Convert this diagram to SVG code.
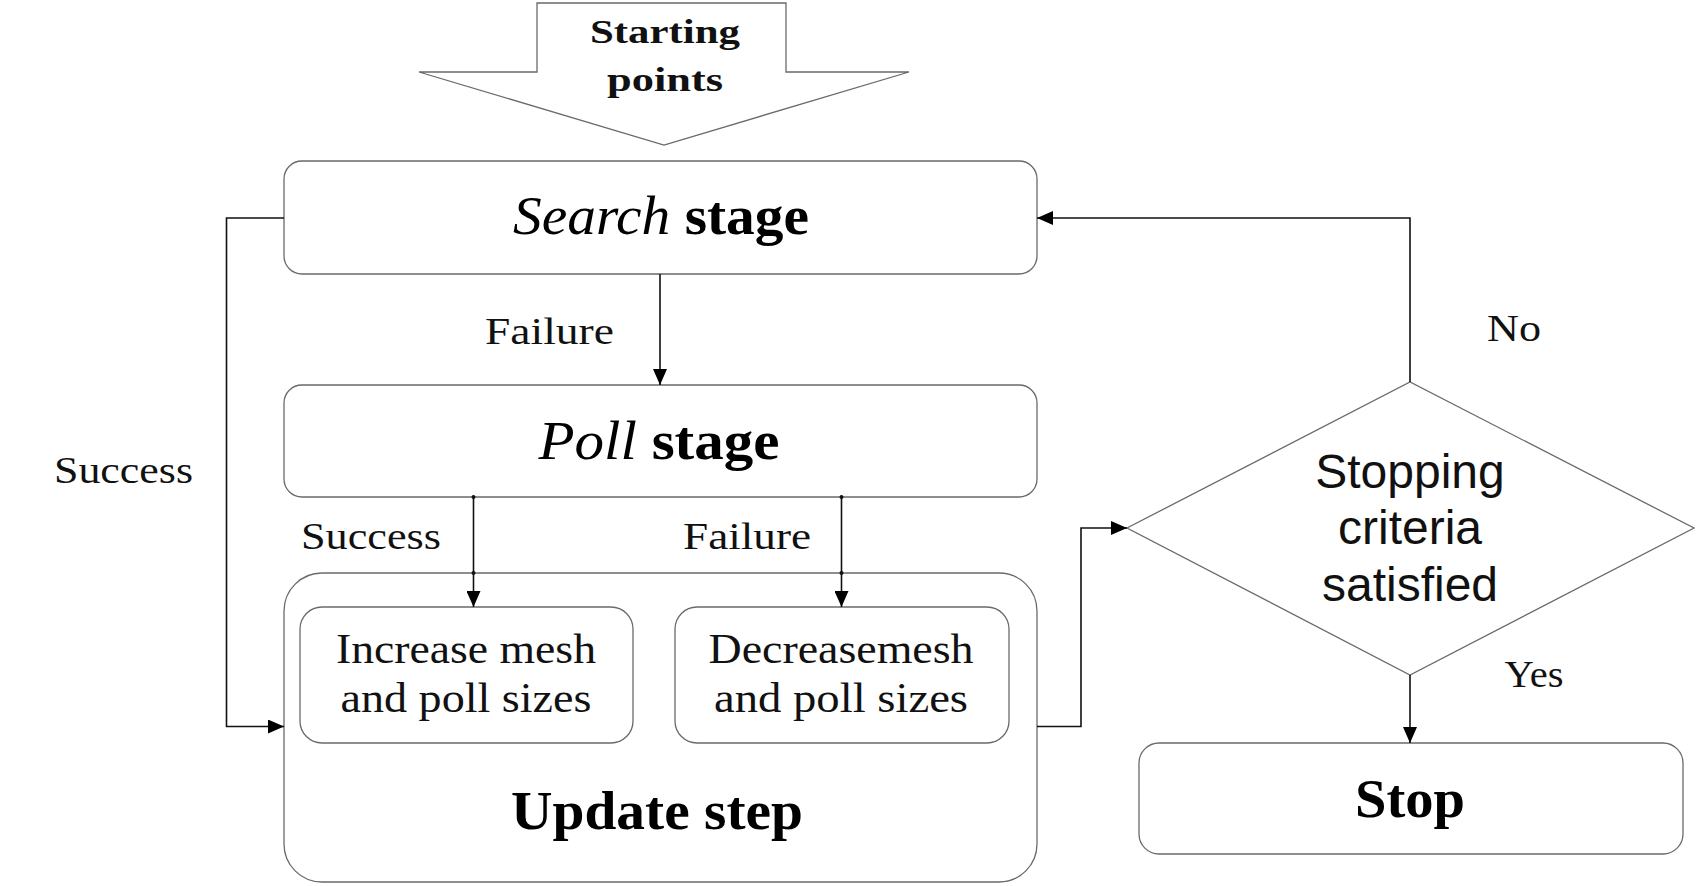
<svg xmlns="http://www.w3.org/2000/svg" width="1700" height="886" viewBox="0 0 1700 886">
<style>
.box{fill:#fff;stroke:#6a6a6a;stroke-width:1.3}
.conn{fill:none;stroke:#111;stroke-width:1.6}
.lbl{font-family:"Liberation Serif",serif;font-size:38px;fill:#111;text-anchor:middle}
.big{font-family:"Liberation Serif",serif;font-size:54px;fill:#000;text-anchor:middle}
.mid{font-family:"Liberation Serif",serif;font-size:42px;fill:#111;text-anchor:middle}
.dec{font-family:"Liberation Sans",sans-serif;font-size:48px;fill:#111;text-anchor:middle}
.st{font-family:"Liberation Serif",serif;font-size:34px;font-weight:bold;fill:#111;text-anchor:middle}
</style>
<defs>
<marker id="ah" viewBox="0 0 16 14" refX="16" refY="7" markerWidth="16" markerHeight="14" markerUnits="userSpaceOnUse" orient="auto">
<path d="M0,0 L16,7 L0,14 Z" fill="#000"/>
</marker>
</defs>
<g id="start">
<polygon class="box" points="537,3 786,3 786,72 909,72 664,145 419,72 537,72"/>
<text class="st" x="665" y="43" textLength="150" lengthAdjust="spacingAndGlyphs">Starting</text>
<text class="st" x="665" y="91" textLength="116" lengthAdjust="spacingAndGlyphs">points</text>
</g>
<g id="search">
<rect class="box" x="284" y="161" width="753" height="113" rx="18"/>
<text class="big" x="661" y="234" textLength="296" lengthAdjust="spacingAndGlyphs"><tspan font-style="italic">Search</tspan><tspan font-weight="bold"> stage</tspan></text>
</g>
<g id="poll">
<rect class="box" x="284" y="385" width="753" height="112" rx="18"/>
<text class="big" x="659" y="459" textLength="241" lengthAdjust="spacingAndGlyphs"><tspan font-style="italic">Poll</tspan><tspan font-weight="bold"> stage</tspan></text>
</g>
<g id="update">
<rect class="box" x="284" y="573" width="753" height="309" rx="38"/>
<text class="big" x="657" y="829" font-weight="bold" textLength="292" lengthAdjust="spacingAndGlyphs">Update step</text>
</g>
<g id="increase">
<rect class="box" x="300" y="607" width="333" height="136" rx="22"/>
<text class="mid" x="466" y="663" textLength="260" lengthAdjust="spacingAndGlyphs">Increase mesh</text>
<text class="mid" x="466" y="712" textLength="251" lengthAdjust="spacingAndGlyphs">and poll sizes</text>
</g>
<g id="decrease">
<rect class="box" x="675" y="607" width="334" height="136" rx="22"/>
<text class="mid" x="841" y="663" textLength="265" lengthAdjust="spacingAndGlyphs">Decreasemesh</text>
<text class="mid" x="841" y="712" textLength="254" lengthAdjust="spacingAndGlyphs">and poll sizes</text>
</g>
<g id="decision">
<polygon class="box" points="1127,528 1410,382 1694,528 1410,675"/>
<text class="dec" x="1410" y="488">Stopping</text>
<text class="dec" x="1410" y="544">criteria</text>
<text class="dec" x="1410" y="601">satisfied</text>
</g>
<g id="stop">
<rect class="box" x="1139" y="743" width="544" height="111" rx="20"/>
<text class="big" x="1410" y="817" font-weight="bold" textLength="110" lengthAdjust="spacingAndGlyphs">Stop</text>
</g>
<g id="connectors">
<path class="conn" d="M660,274 V385" marker-end="url(#ah)"/>
<path class="conn" d="M284,218 H226.5 V726.5 H284" marker-end="url(#ah)"/>
<path class="conn" d="M473.5,497 V607" marker-end="url(#ah)"/>
<path class="conn" d="M841.5,497 V607" marker-end="url(#ah)"/>
<circle cx="473.5" cy="497" r="2" fill="#111"/>
<circle cx="841.5" cy="497" r="2" fill="#111"/>
<circle cx="473.5" cy="573" r="2" fill="#111"/>
<circle cx="841.5" cy="573" r="2" fill="#111"/>
<path class="conn" d="M1037,726.5 H1081 V528 H1127" marker-end="url(#ah)"/>
<path class="conn" d="M1410,382 V218 H1037" marker-end="url(#ah)"/>
<path class="conn" d="M1410,675 V743" marker-end="url(#ah)"/>
<text class="lbl" x="549.5" y="344" textLength="129" lengthAdjust="spacingAndGlyphs">Failure</text>
<text class="lbl" x="123.5" y="483" textLength="139" lengthAdjust="spacingAndGlyphs">Success</text>
<text class="lbl" x="371" y="549" textLength="140" lengthAdjust="spacingAndGlyphs">Success</text>
<text class="lbl" x="747" y="549" textLength="128" lengthAdjust="spacingAndGlyphs">Failure</text>
<text class="lbl" x="1514" y="341" textLength="54" lengthAdjust="spacingAndGlyphs">No</text>
<text class="lbl" x="1534" y="687" textLength="59" lengthAdjust="spacingAndGlyphs">Yes</text>
</g>
</svg>
